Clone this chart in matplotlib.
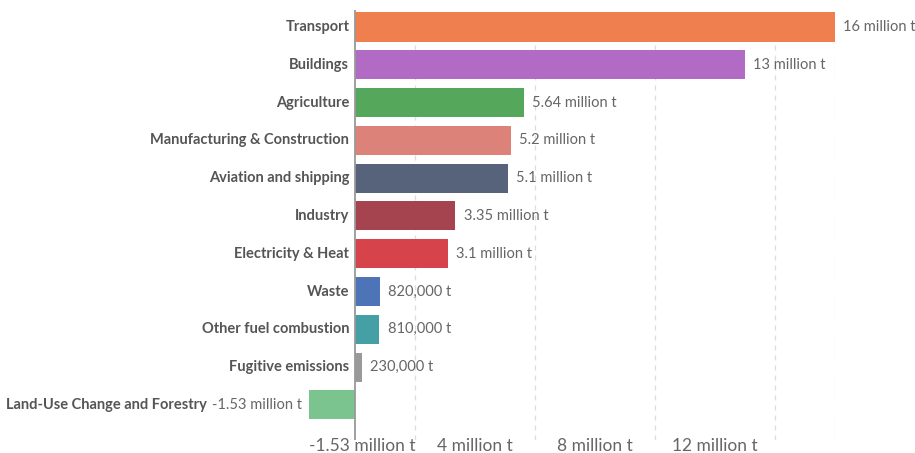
import matplotlib
matplotlib.use("Agg")
import matplotlib.pyplot as plt
import numpy as np

# sector emissions, tonnes
sectors = [
    "Transport", "Buildings", "Agriculture", "Manufacturing & Construction",
    "Aviation and shipping", "Industry", "Electricity & Heat", "Waste",
    "Other fuel combustion", "Fugitive emissions", "Land-Use Change and Forestry",
]
values = [16.0e6, 13.0e6, 5.64e6, 5.2e6, 5.1e6, 3.35e6, 3.1e6, 820e3, 810e3, 230e3, -1.53e6]
value_labels = [
    "16 million t", "13 million t", "5.64 million t", "5.2 million t",
    "5.1 million t", "3.35 million t", "3.1 million t", "820,000 t",
    "810,000 t", "230,000 t", "-1.53 million t",
]
colors = [
    "#f07f4f", "#b26bc5", "#55a75b", "#dd8279", "#56637b", "#a5444f",
    "#d6434b", "#4e74b8", "#45a0a6", "#999999", "#7bc48f",
]
tick_values = [-1.53e6, 4e6, 8e6, 12e6]
tick_labels = ["-1.53 million t", "4 million t", "8 million t", "12 million t"]
grid_values = np.arange(2e6, 16.5e6, 2e6)

plt.rcParams["font.family"] = ["Lato", "DejaVu Sans"]

fig = plt.figure(figsize=(9.15, 4.53), dpi=100)
ax = fig.add_axes([309 / 915, 13 / 453, 526 / 915, 430 / 453])

y = np.arange(len(sectors))
ax.barh(y, values, height=0.77, color=colors, zorder=2)

ax.set_xlim(min(values), max(values))
ax.set_ylim(len(sectors) - 0.07, -0.45)

ax.axvline(0, color="#999999", lw=1.3, zorder=3)
ax.set_xticks(grid_values, minor=True)
ax.grid(which="minor", axis="x", color="#dddddd", ls=(0, (4, 4)), lw=0.9, zorder=0)
ax.set_xticks(tick_values)
ax.set_xticklabels(tick_labels, fontsize=12.5, color="#666666")
ax.get_xticklabels()[0].set_horizontalalignment("left")
ax.tick_params(axis="x", which="both", length=0, pad=-1.5)
ax.set_yticks([])
for s in ax.spines.values():
    s.set_visible(False)

fig.canvas.draw()
renderer = fig.canvas.get_renderer()
for yi, v, lab, name in zip(y, values, value_labels, sectors):
    if v >= 0:
        ax.annotate(lab, (v, yi), xytext=(6, 0), textcoords="offset points",
                    ha="left", va="center", fontsize=10.5, color="#666666")
        ax.annotate(name, (0, yi), xytext=(-4, 0), textcoords="offset points",
                    ha="right", va="center", fontsize=10.5, fontweight="bold", color="#555555")
    else:
        t = ax.annotate(lab, (v, yi), xytext=(-5, 0), textcoords="offset points",
                        ha="right", va="center", fontsize=10.5, color="#666666")
        w = t.get_window_extent(renderer).width * 72 / fig.dpi
        ax.annotate(name, (v, yi), xytext=(-5 - w - 4, 0), textcoords="offset points",
                    ha="right", va="center", fontsize=10.5, fontweight="bold", color="#555555")

fig.savefig("out.png", dpi=100)
